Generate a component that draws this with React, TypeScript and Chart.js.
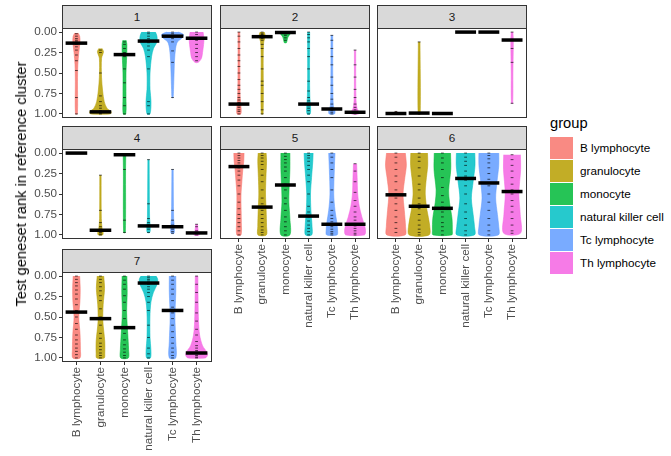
import React, { useEffect, useRef } from 'react';
import { Chart, registerables } from 'chart.js';

Chart.register(...registerables);

const FONT = '"Liberation Sans", Arial, Helvetica, sans-serif';

const categories = ['B lymphocyte', 'granulocyte', 'monocyte', 'natural killer cell', 'Tc lymphocyte', 'Th lymphocyte'];
const groupColors = ['#F8766D', '#B79F00', '#00BA38', '#00BFC4', '#619CFF', '#F564E3'];
const yTicks = [0, 0.25, 0.5, 0.75, 1];
const panelLabels = ['1', '2', '3', '4', '5', '6', '7'];

// median rank per group
const median1 = [0.135, 0.975, 0.275, 0.11, 0.05, 0.075];
const median2 = [0.88, 0.056, 0.005, 0.88, 0.94, 0.98];
const median3 = [0.995, 0.99, 0.995, 0.0, 0.0, 0.097];
const median4 = [0.0, 0.943, 0.02, 0.89, 0.9, 0.976];
const median5 = [0.165, 0.66, 0.39, 0.77, 0.87, 0.87];
const median6 = [0.51, 0.65, 0.675, 0.31, 0.365, 0.47];
const median7 = [0.44, 0.52, 0.63, 0.085, 0.42, 0.94];

// violin density profiles: [rank, relative density]
const shape1 = [
  [[0.01, 0.15], [0.05, 0.3], [0.12, 0.33], [0.25, 0.22], [0.4, 0.13], [0.6, 0.1], [1.0, 0.09]],
  [[0.2, 0.15], [0.24, 0.28], [0.32, 0.1], [0.55, 0.1], [0.72, 0.2], [0.85, 0.35], [0.93, 0.6], [0.975, 1.0], [1.0, 0.9]],
  [[0.1, 0.15], [0.15, 0.22], [0.3, 0.2], [0.5, 0.14], [0.8, 0.14], [1.0, 0.12]],
  [[0.0, 0.64], [0.05, 0.78], [0.12, 0.78], [0.2, 0.46], [0.3, 0.28], [0.5, 0.14], [0.7, 0.14], [0.85, 0.23], [1.0, 0.14]],
  [[0.0, 0.55], [0.03, 1.0], [0.07, 0.9], [0.12, 0.45], [0.2, 0.28], [0.35, 0.18], [0.5, 0.14], [0.7, 0.09], [0.8, 0.05]],
  [[0.0, 0.6], [0.08, 0.68], [0.15, 0.65], [0.25, 0.55], [0.32, 0.45], [0.37, 0.15]],
];
const shape2 = [
  [[0.0, 0.08], [0.5, 0.09], [0.8, 0.12], [0.92, 0.2], [1.0, 0.18]],
  [[0.0, 0.2], [0.05, 0.3], [0.12, 0.15], [0.3, 0.1], [1.0, 0.09]],
  [[0.0, 0.6], [0.025, 0.45], [0.06, 0.25], [0.11, 0.15], [0.13, 0.1]],
  [[0.0, 0.1], [0.5, 0.09], [0.8, 0.12], [0.9, 0.18], [1.0, 0.15]],
  [[0.04, 0.08], [0.6, 0.09], [0.9, 0.14], [0.96, 0.3], [1.0, 0.25]],
  [[0.22, 0.06], [0.8, 0.08], [0.93, 0.18], [0.98, 0.4], [1.0, 0.35]],
];
const shape3 = [
  [[0.97, 0.05], [1.0, 0.1]],
  [[0.12, 0.08], [1.0, 0.1]],
  [[0.99, 0.05], [1.0, 0.05]],
  [[0.0, 0.05], [0.005, 0.05]],
  [[0.0, 0.05], [0.005, 0.05]],
  [[0.0, 0.08], [0.1, 0.12], [0.5, 0.08], [0.87, 0.06]],
];
const shape4 = [
  [[0.0, 0.05], [0.005, 0.05]],
  [[0.27, 0.06], [0.8, 0.08], [0.93, 0.16], [0.97, 0.25], [1.0, 0.2]],
  [[0.02, 0.12], [0.2, 0.1], [0.97, 0.08]],
  [[0.08, 0.06], [0.8, 0.1], [0.9, 0.16], [0.97, 0.12]],
  [[0.2, 0.06], [0.8, 0.1], [0.9, 0.16], [0.98, 0.14]],
  [[0.87, 0.08], [0.95, 0.15], [1.0, 0.25]],
];
const shape5 = [
  [[0.0, 0.49], [0.1, 0.46], [0.2, 0.37], [0.35, 0.28], [0.5, 0.2], [0.7, 0.21], [0.85, 0.23], [1.0, 0.2]],
  [[0.0, 0.38], [0.1, 0.42], [0.3, 0.36], [0.5, 0.32], [0.7, 0.38], [0.9, 0.42], [1.0, 0.4]],
  [[0.0, 0.43], [0.2, 0.43], [0.45, 0.35], [0.6, 0.33], [0.8, 0.43], [1.0, 0.43]],
  [[0.0, 0.43], [0.1, 0.4], [0.3, 0.28], [0.5, 0.18], [0.7, 0.22], [0.9, 0.33], [1.0, 0.3]],
  [[0.0, 0.3], [0.2, 0.24], [0.5, 0.18], [0.7, 0.3], [0.85, 0.48], [0.95, 0.55], [1.0, 0.5]],
  [[0.13, 0.15], [0.3, 0.2], [0.5, 0.25], [0.65, 0.4], [0.78, 0.65], [0.88, 0.9], [0.95, 1.0], [1.0, 0.9]],
];
const shape6 = [
  [[0.0, 0.9], [0.15, 1.0], [0.3, 0.85], [0.5, 0.68], [0.7, 0.8], [0.9, 0.92], [1.0, 0.88]],
  [[0.0, 0.8], [0.15, 0.82], [0.35, 0.65], [0.5, 0.58], [0.7, 0.75], [0.88, 1.0], [1.0, 0.95]],
  [[0.0, 0.78], [0.2, 0.8], [0.45, 0.6], [0.6, 0.68], [0.8, 0.92], [0.95, 0.95], [1.0, 0.9]],
  [[0.0, 0.88], [0.15, 0.9], [0.35, 0.72], [0.55, 0.55], [0.75, 0.72], [0.9, 0.85], [1.0, 0.85]],
  [[0.0, 0.95], [0.15, 0.95], [0.35, 0.78], [0.55, 0.65], [0.75, 0.82], [0.9, 0.95], [1.0, 0.92]],
  [[0.02, 0.8], [0.2, 0.82], [0.5, 0.65], [0.75, 0.78], [0.98, 0.8]],
];
const shape7 = [
  [[0.0, 0.3], [0.15, 0.35], [0.3, 0.33], [0.5, 0.22], [0.7, 0.33], [0.9, 0.37], [1.0, 0.33]],
  [[0.0, 0.3], [0.15, 0.38], [0.35, 0.25], [0.55, 0.22], [0.8, 0.4], [0.95, 0.4], [1.0, 0.35]],
  [[0.0, 0.22], [0.2, 0.25], [0.45, 0.2], [0.7, 0.3], [0.9, 0.38], [1.0, 0.35]],
  [[0.0, 0.7], [0.04, 0.85], [0.1, 0.8], [0.2, 0.45], [0.32, 0.22], [0.5, 0.13], [0.75, 0.14], [0.9, 0.22], [1.0, 0.18]],
  [[0.0, 0.3], [0.2, 0.3], [0.5, 0.22], [0.8, 0.3], [1.0, 0.3]],
  [[0.0, 0.12], [0.3, 0.14], [0.55, 0.18], [0.72, 0.28], [0.85, 0.55], [0.93, 0.95], [0.97, 1.0], [1.0, 0.8]],
];

// individual test gene set ranks
const points1 = [
  [0.02, 0.05, 0.08, 0.1, 0.12, 0.15, 0.18, 0.22, 0.28, 0.35, 0.47, 0.8, 1.0],
  [0.22, 0.25, 0.5, 0.78, 0.85, 0.9, 0.93, 0.96, 0.98, 0.99, 1.0],
  [0.12, 0.15, 0.2, 0.25, 0.3, 0.45, 0.62, 0.8, 0.9, 1.0],
  [0.0, 0.02, 0.05, 0.08, 0.1, 0.13, 0.17, 0.22, 0.3, 0.45, 0.85, 0.9, 1.0],
  [0.0, 0.02, 0.04, 0.06, 0.08, 0.12, 0.23, 0.37, 0.8],
  [0.0, 0.03, 0.07, 0.1, 0.15, 0.2, 0.25, 0.3, 0.35],
];
const points2 = [
  [0.0, 0.05, 0.12, 0.2, 0.28, 0.35, 0.42, 0.5, 0.58, 0.65, 0.7, 0.75, 0.8, 0.83, 0.86, 0.88, 0.9, 0.92, 0.95, 0.97, 1.0],
  [0.0, 0.02, 0.03, 0.05, 0.06, 0.08, 0.1, 0.15, 0.2, 0.3, 0.45, 0.6, 0.65, 0.75, 0.85, 0.95, 1.0],
  [0.0, 0.01, 0.02, 0.04, 0.07, 0.1],
  [0.0, 0.03, 0.07, 0.12, 0.2, 0.3, 0.45, 0.6, 0.72, 0.8, 0.84, 0.87, 0.9, 0.93, 0.96, 1.0],
  [0.04, 0.1, 0.2, 0.3, 0.4, 0.55, 0.65, 0.75, 0.82, 0.88, 0.92, 0.94, 0.96, 0.98, 1.0],
  [0.22, 0.4, 0.55, 0.7, 0.8, 0.88, 0.92, 0.95, 0.97, 0.99, 1.0],
];
const points3 = [
  [0.97, 1.0],
  [0.12, 1.0],
  [1.0],
  [0.0],
  [0.0],
  [0.0, 0.1, 0.2, 0.37, 0.87],
];
const points4 = [
  [0.0],
  [0.27, 0.7, 0.85, 0.9, 0.93, 0.95, 0.97, 0.99, 1.0],
  [0.02, 0.2, 0.82, 0.97],
  [0.08, 0.62, 0.8, 0.85, 0.88, 0.9, 0.93, 0.97],
  [0.2, 0.7, 0.82, 0.88, 0.9, 0.93, 0.96, 0.98],
  [0.87, 0.9, 0.95, 0.98, 1.0],
];
const points5 = [
  [0.0, 0.03, 0.06, 0.09, 0.12, 0.15, 0.18, 0.22, 0.27, 0.33, 0.4, 0.5, 0.6, 0.68, 0.75, 0.8, 0.85, 0.9, 0.95, 1.0],
  [0.0, 0.03, 0.06, 0.1, 0.14, 0.2, 0.27, 0.35, 0.45, 0.55, 0.62, 0.7, 0.75, 0.8, 0.85, 0.9, 0.94, 0.97, 1.0],
  [0.0, 0.04, 0.08, 0.12, 0.17, 0.22, 0.3, 0.38, 0.45, 0.55, 0.62, 0.7, 0.78, 0.84, 0.9, 0.95, 1.0],
  [0.0, 0.03, 0.06, 0.1, 0.15, 0.2, 0.27, 0.35, 0.5, 0.65, 0.72, 0.78, 0.83, 0.88, 0.92, 0.96, 1.0],
  [0.0, 0.05, 0.12, 0.2, 0.3, 0.45, 0.6, 0.7, 0.76, 0.8, 0.84, 0.87, 0.9, 0.93, 0.96, 0.98, 1.0],
  [0.13, 0.22, 0.35, 0.48, 0.58, 0.65, 0.72, 0.78, 0.82, 0.86, 0.89, 0.92, 0.95, 0.98, 1.0],
];
const points6 = [
  [0.0, 0.05, 0.12, 0.2, 0.28, 0.35, 0.45, 0.5, 0.55, 0.62, 0.7, 0.78, 0.85, 0.92, 0.97],
  [0.0, 0.05, 0.1, 0.18, 0.28, 0.38, 0.45, 0.55, 0.62, 0.68, 0.75, 0.82, 0.88, 0.93, 0.97, 1.0],
  [0.0, 0.06, 0.12, 0.2, 0.3, 0.42, 0.52, 0.6, 0.66, 0.72, 0.78, 0.85, 0.9, 0.95, 1.0],
  [0.0, 0.05, 0.1, 0.15, 0.22, 0.28, 0.33, 0.4, 0.5, 0.62, 0.72, 0.8, 0.88, 0.95, 1.0],
  [0.0, 0.03, 0.07, 0.12, 0.18, 0.25, 0.32, 0.4, 0.5, 0.6, 0.7, 0.8, 0.88, 0.95, 1.0],
  [0.02, 0.08, 0.15, 0.22, 0.3, 0.38, 0.45, 0.5, 0.58, 0.65, 0.72, 0.8, 0.88, 0.95, 0.98],
];
const points7 = [
  [0.0, 0.04, 0.08, 0.12, 0.17, 0.22, 0.28, 0.35, 0.42, 0.5, 0.58, 0.65, 0.72, 0.78, 0.83, 0.88, 0.92, 0.96, 1.0],
  [0.0, 0.04, 0.08, 0.13, 0.18, 0.24, 0.3, 0.4, 0.5, 0.6, 0.7, 0.76, 0.82, 0.86, 0.9, 0.94, 0.97, 1.0],
  [0.0, 0.05, 0.1, 0.16, 0.24, 0.32, 0.42, 0.52, 0.62, 0.7, 0.78, 0.84, 0.89, 0.93, 0.97, 1.0],
  [0.0, 0.02, 0.04, 0.06, 0.08, 0.1, 0.13, 0.16, 0.2, 0.25, 0.32, 0.42, 0.6, 0.75, 0.88, 0.95, 1.0],
  [0.0, 0.05, 0.1, 0.16, 0.22, 0.3, 0.38, 0.45, 0.52, 0.6, 0.68, 0.75, 0.82, 0.88, 0.93, 0.97, 1.0],
  [0.0, 0.1, 0.2, 0.32, 0.45, 0.55, 0.65, 0.72, 0.8, 0.85, 0.88, 0.91, 0.93, 0.95, 0.97, 0.99, 1.0],
];

const medians = [median1, median2, median3, median4, median5, median6, median7];
const shapes = [shape1, shape2, shape3, shape4, shape5, shape6, shape7];
const pointSets = [points1, points2, points3, points4, points5, points6, points7];

// layout
const PANEL_W = 150;
const PANEL_H = 90;
const STRIP_H = 23;
const colLeft = [62, 220, 377];
const rowTop = [28, 149, 272];
const Y_AXIS_W = 40;
const X_AXIS_H = 100;
const PAD_T = 8;
const PAD_B = 8;
const PAD_R = 4;
const HALF = 0.45;

const panelPos = [
  { col: 0, row: 0, showX: false, showY: true },
  { col: 1, row: 0, showX: false, showY: false },
  { col: 2, row: 0, showX: false, showY: false },
  { col: 0, row: 1, showX: false, showY: true },
  { col: 1, row: 1, showX: true, showY: false },
  { col: 2, row: 1, showX: true, showY: false },
  { col: 0, row: 2, showX: true, showY: true },
];

function rgba(hex: string, a: number) {
  const n = parseInt(hex.slice(1), 16);
  return `rgba(${(n >> 16) & 255},${(n >> 8) & 255},${n & 255},${a})`;
}

function Panel({ idx }: { idx: number }) {
  const ref = useRef<HTMLCanvasElement | null>(null);
  const pos = panelPos[idx];
  const left = colLeft[pos.col];
  const top = rowTop[pos.row];
  const axisW = pos.showY ? Y_AXIS_W : 0;
  const axisH = pos.showX ? X_AXIS_H : 0;
  const bottom = pos.showX ? X_AXIS_H : PAD_B;
  const cw = axisW + PANEL_W + PAD_R;
  const ch = PAD_T + PANEL_H + bottom;

  useEffect(() => {
    if (!ref.current) return;
    const datasets: any[] = [];
    const med = medians[idx];
    const shp = shapes[idx];
    const pts = pointSets[idx];
    for (let g = 0; g < categories.length; g++) {
      const cx = g + 1;
      datasets.push({
        data: [
          { x: cx - HALF, y: med[g] },
          { x: cx + HALF, y: med[g] },
        ],
        showLine: true,
        borderColor: '#000000',
        borderWidth: 3.5,
        borderCapStyle: 'butt',
        pointRadius: 0,
        order: 1,
      });
      datasets.push({
        data: pts[g].map((v) => ({ x: cx, y: v })),
        showLine: false,
        pointStyle: 'line',
        pointRadius: 1.4,
        borderWidth: 1,
        borderColor: 'rgba(0,0,0,0.65)',
        backgroundColor: 'rgba(0,0,0,0.65)',
        order: 2,
      });
      const knots = shp[g];
      const right = knots.map(([y, d]) => ({ x: cx + d * HALF, y }));
      const leftSide = knots
        .slice()
        .reverse()
        .map(([y, d]) => ({ x: cx - d * HALF, y }));
      datasets.push({
        data: [...right, ...leftSide],
        showLine: true,
        fill: 'shape',
        tension: 0.3,
        backgroundColor: rgba(groupColors[g], 0.85),
        borderColor: rgba(groupColors[g], 0.9),
        borderWidth: 0.6,
        pointRadius: 0,
        order: 3,
      });
    }

    const chart = new Chart(ref.current, {
      type: 'scatter',
      data: { datasets },
      options: {
        animation: false,
        responsive: false,
        maintainAspectRatio: false,
        events: [],
        layout: { padding: { top: PAD_T, right: PAD_R, bottom: pos.showX ? 0 : PAD_B, left: 0 } },
        plugins: { legend: { display: false }, tooltip: { enabled: false } },
        scales: {
          x: {
            type: 'linear',
            min: 0.4,
            max: 6.6,
            display: pos.showX,
            afterBuildTicks: (s: any) => {
              s.ticks = categories.map((_, i) => ({ value: i + 1 }));
            },
            afterFit: (s: any) => {
              s.height = axisH;
              s.paddingLeft = 0;
              s.paddingRight = 0;
            },
            ticks: {
              autoSkip: false,
              minRotation: 90,
              maxRotation: 90,
              padding: 2,
              color: '#4d4d4d',
              font: { family: FONT, size: 11.7 },
              callback: (v: any) => categories[Math.round(Number(v)) - 1] ?? '',
            },
            grid: { display: true, drawOnChartArea: false, drawTicks: true, tickLength: 3, color: '#333333', lineWidth: 1 },
            border: { display: false },
          },
          y: {
            type: 'linear',
            reverse: true,
            min: -0.05,
            max: 1.05,
            display: pos.showY,
            afterBuildTicks: (s: any) => {
              s.ticks = yTicks.map((v) => ({ value: v }));
            },
            afterFit: (s: any) => {
              s.width = axisW;
              s.paddingTop = 0;
              s.paddingBottom = 0;
            },
            ticks: {
              padding: 2,
              color: '#4d4d4d',
              font: { family: FONT, size: 11.7 },
              callback: (v: any) => Number(v).toFixed(2),
            },
            grid: { display: true, drawOnChartArea: false, drawTicks: true, tickLength: 3, color: '#333333', lineWidth: 1 },
            border: { display: false },
          },
        },
      } as any,
    });
    return () => chart.destroy();
  }, [idx]);

  return (
    <>
      <canvas
        ref={ref}
        width={cw}
        height={ch}
        style={{ position: 'absolute', left: left - axisW, top: top - PAD_T, width: cw, height: ch }}
      />
      <div
        style={{
          position: 'absolute',
          left,
          top,
          width: PANEL_W,
          height: PANEL_H,
          border: '1px solid #333333',
          boxSizing: 'border-box',
          pointerEvents: 'none',
        }}
      />
      <div
        style={{
          position: 'absolute',
          left,
          top: top - STRIP_H,
          width: PANEL_W,
          height: STRIP_H + 1,
          background: '#d9d9d9',
          border: '1px solid #333333',
          boxSizing: 'border-box',
          color: '#1a1a1a',
          fontSize: 11.7,
          fontFamily: FONT,
          lineHeight: `${STRIP_H - 1}px`,
          textAlign: 'center',
        }}
      >
        {panelLabels[idx]}
      </div>
    </>
  );
}

export default function App() {
  return (
    <div style={{ position: 'absolute', left: 0, top: 0, width: 671, height: 456, background: '#ffffff', overflow: 'hidden' }}>
      {panelPos.map((_, i) => (
        <Panel key={i} idx={i} />
      ))}
      <div
        style={{
          position: 'absolute',
          left: 21,
          top: 183.5,
          transform: 'translate(-50%, -50%) rotate(-90deg)',
          whiteSpace: 'nowrap',
          fontSize: 14.7,
          fontFamily: FONT,
          color: '#000000',
        }}
      >
        Test geneset rank in reference cluster
      </div>
      <div style={{ position: 'absolute', left: 550, top: 114, fontSize: 14.7, fontFamily: FONT, color: '#000', lineHeight: '18px' }}>
        group
      </div>
      {categories.map((c, i) => (
        <React.Fragment key={c}>
          <div
            style={{
              position: 'absolute',
              left: 550,
              top: 137 + i * 23,
              width: 22.7,
              height: 22,
              background: rgba(groupColors[i], 0.85),
            }}
          />
          <div
            style={{
              position: 'absolute',
              left: 580,
              top: 137 + i * 23,
              height: 22,
              lineHeight: '22px',
              fontSize: 11.7,
              fontFamily: FONT,
              color: '#000',
              whiteSpace: 'nowrap',
            }}
          >
            {c}
          </div>
        </React.Fragment>
      ))}
    </div>
  );
}
